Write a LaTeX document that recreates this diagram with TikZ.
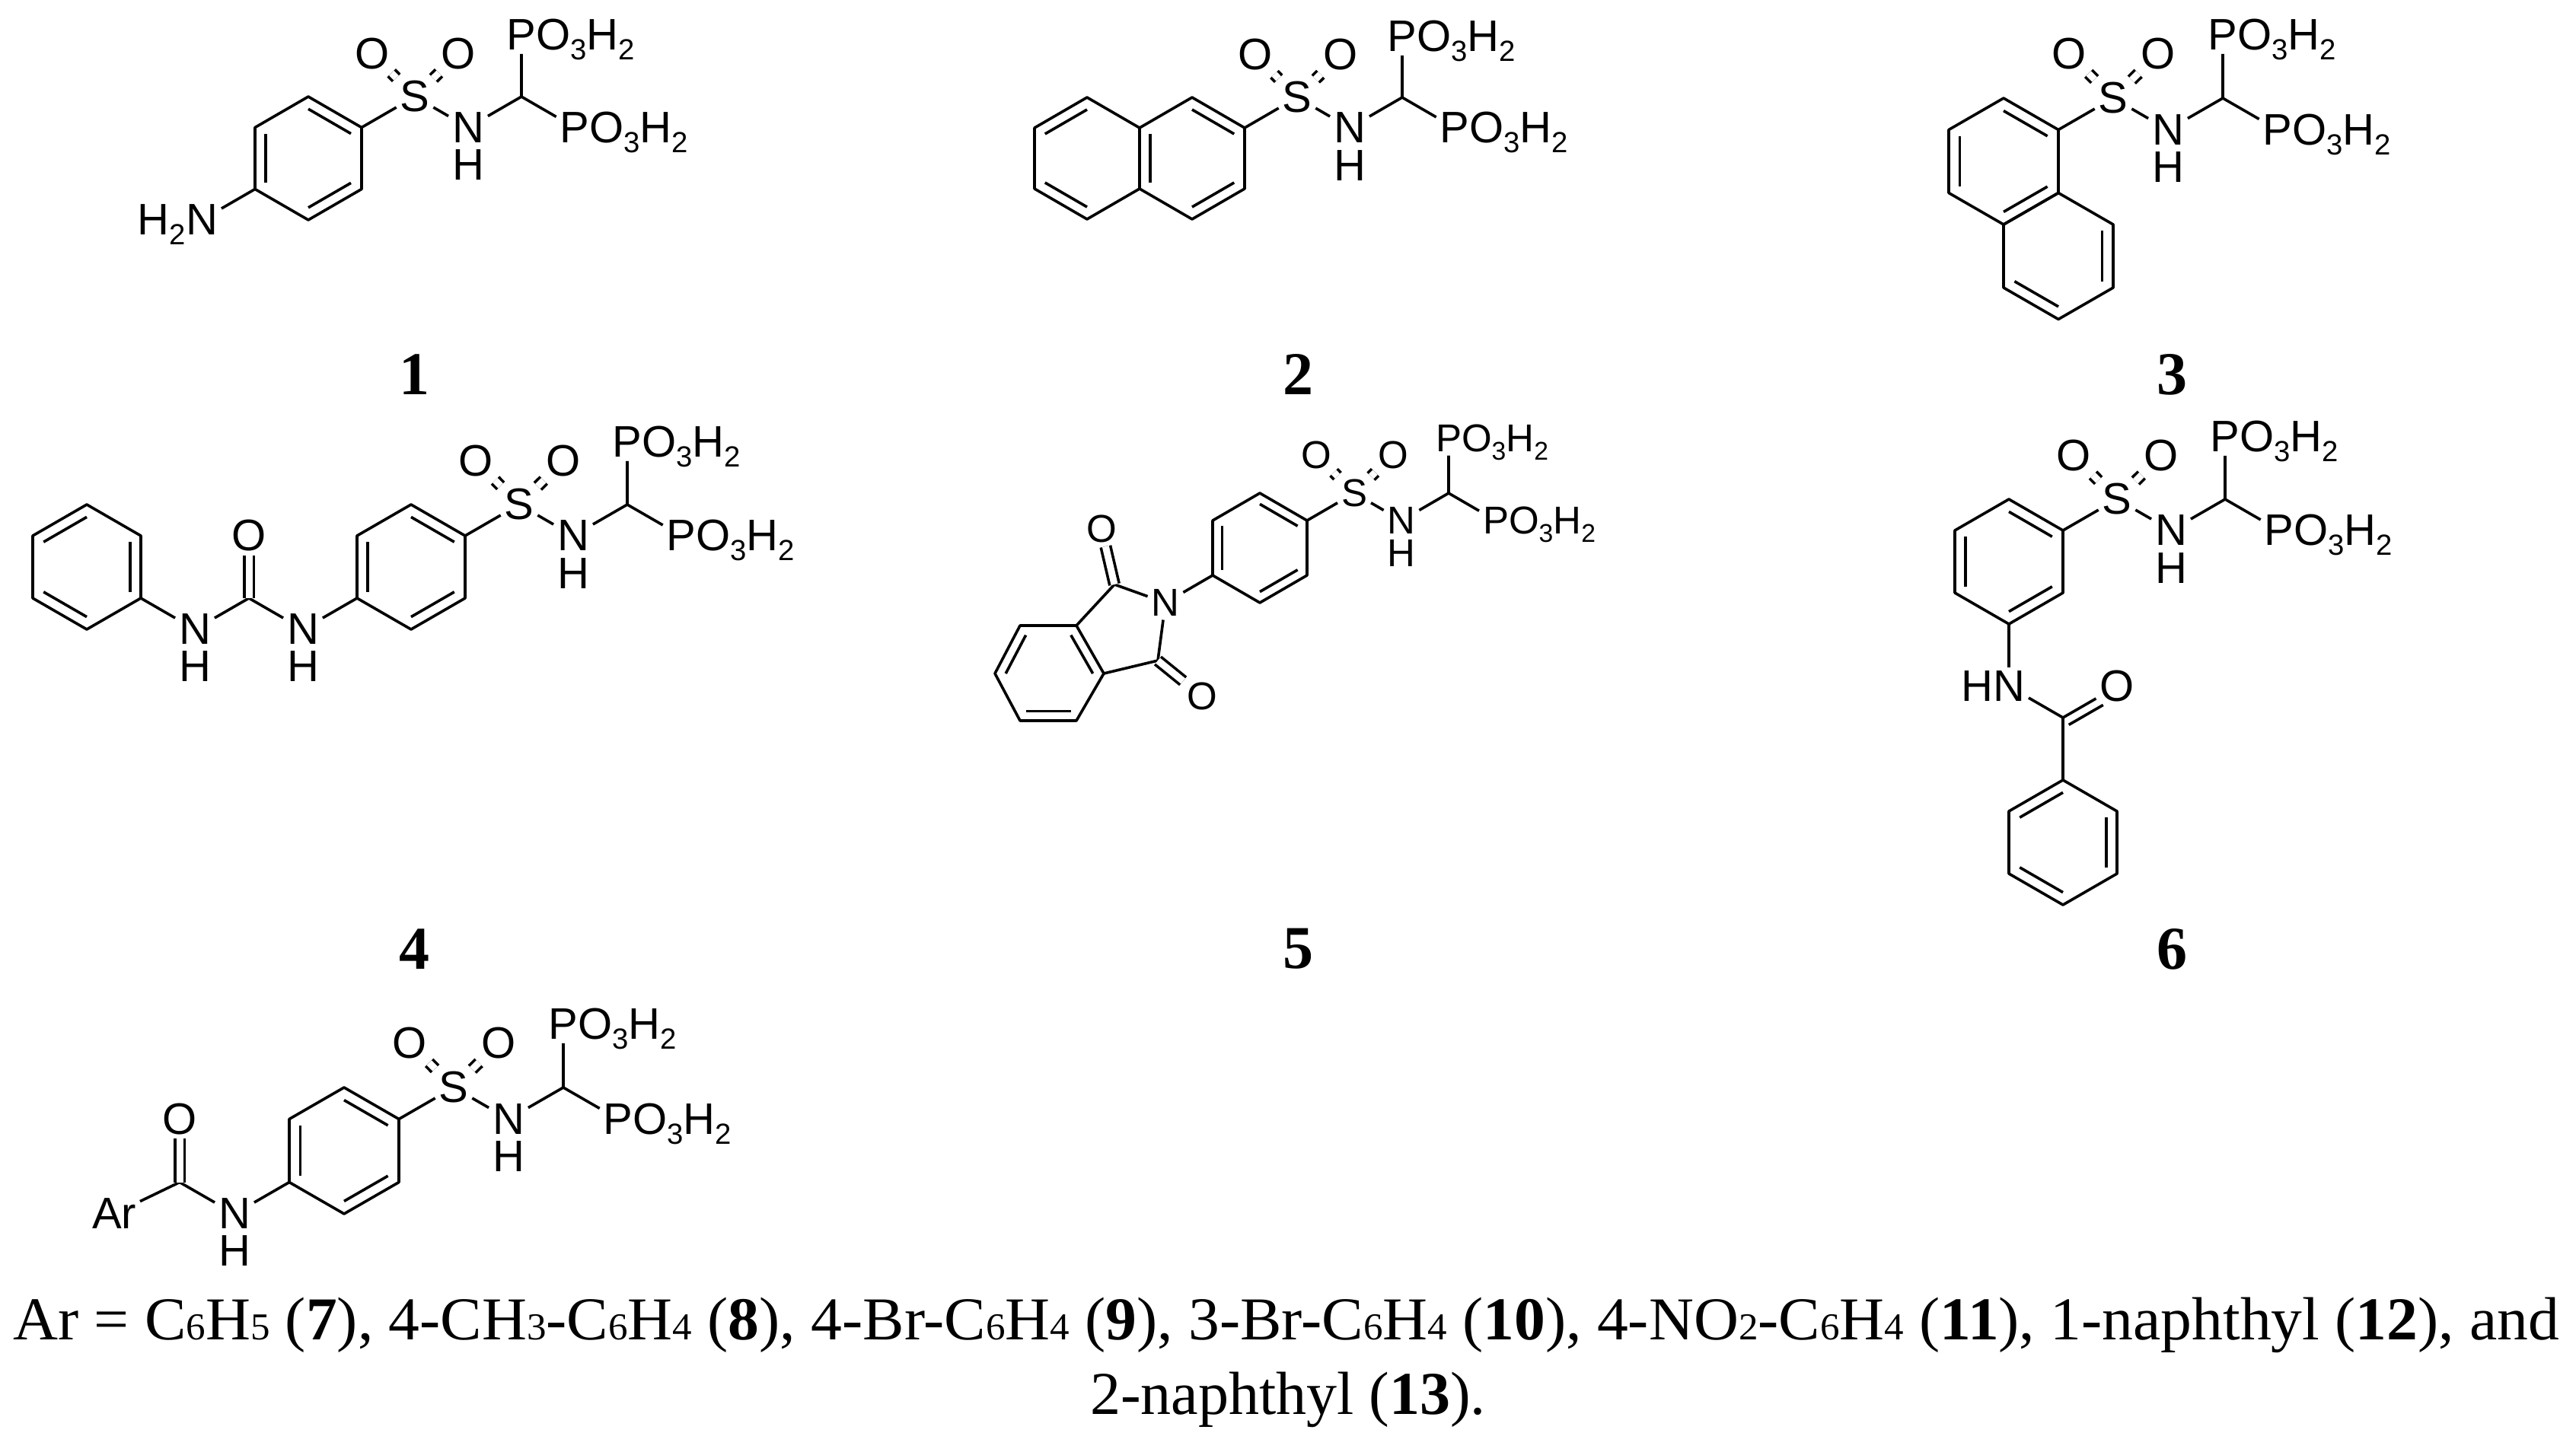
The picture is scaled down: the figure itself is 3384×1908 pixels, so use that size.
\documentclass[tikz,border=0pt]{standalone}
\usepackage{fontspec}
\usepackage{graphicx}
\setmainfont{Liberation Serif}
\newfontfamily\chemfont{Liberation Sans}
\usetikzlibrary{calc}
\newcommand\chemsize{58}
\newcommand\sub[1]{\raisebox{-0.22em}{\fontsize{\fpeval{0.66*\chemsize}}{10}\selectfont #1}}
\newcommand\csub[1]{{\fontsize{50}{50}\selectfont #1}}
\tikzset{
 bond/.style={line width=3.6pt, line join=round},
 atom/.style={font=\chemfont\fontsize{\chemsize}{\chemsize}\selectfont, inner sep=5pt, outer sep=0pt},
 dbl/.style={bond, double, double distance=9pt},
 numlab/.style={font=\fontsize{80}{80}\selectfont\bfseries, inner sep=0pt}
}
\newcommand\hexring[5]{%
 \coordinate (#1c) at (#2,#3);
 \coordinate (#11) at (#2,#3-#5);
 \coordinate (#12) at (#2+#4,#3-#5/2);
 \coordinate (#13) at (#2+#4,#3+#5/2);
 \coordinate (#14) at (#2,#3+#5);
 \coordinate (#15) at (#2-#4,#3+#5/2);
 \coordinate (#16) at (#2-#4,#3-#5/2);
 \draw[bond] (#11)--(#12)--(#13)--(#14)--(#15)--(#16)--cycle;}
\newcommand\inb[3]{\draw[bond] ($(#1)!0.2!(#3)$) -- ($(#2)!0.2!(#3)$);}
\newcommand\pchain[4]{%
 \path (#2) ++(#3,-#4) node[atom] (#1S) {S};
 \path (#1S.center) ++(-0.8*#3,-1.4*#4) node[atom] (#1Oa) {O};
 \path (#1S.center) ++(0.82*#3,-1.4*#4) node[atom] (#1Ob) {O};
 \path (#1S.center) ++(#3,#4) node[atom] (#1N) {N};
 \path (#1N.center) ++(0,0.85*\chemsize) node[atom] (#1H) {H};
 \path (#1N.center) ++(#3,-#4) coordinate (#1C);
 \path (#1C) ++(0,-2*#4) node[atom] (#1Pa) {P};
 \node[atom, anchor=base west, inner sep=0pt] (#1Xa) at ([xshift=-5pt]#1Pa.base east) {O\sub3H\sub2};
 \path (#1C) ++(#3,#4) node[atom] (#1Pb) {P};
 \node[atom, anchor=base west, inner sep=0pt] (#1Xb) at ([xshift=-5pt]#1Pb.base east) {O\sub3H\sub2};
 \draw[bond] (#2) -- (#1S);
 \draw[dbl] (#1S) -- (#1Oa);
 \draw[dbl] (#1S) -- (#1Ob);
 \draw[bond] (#1S) -- (#1N);
 \draw[bond] (#1N) -- (#1C) -- (#1Pa);
 \draw[bond] (#1C) -- (#1Pb);}
\begin{document}
\begin{tikzpicture}[x=1pt,y=-1pt]
\fill[white] (0,0) rectangle (3384,1908);
\useasboundingbox (0,0) rectangle (3384,1908);
% ---- 1
\hexring{a}{405}{208}{70}{81}
\inb{a1}{a2}{ac}\inb{a5}{a6}{ac}\inb{a3}{a4}{ac}
\pchain{A}{a2}{70}{40.5}
\node[atom] (AN2) at (265,289) {N};
\node[atom,anchor=base east,inner sep=0pt] (AH2) at ([xshift=5pt]AN2.base west) {H\sub2};
\draw[bond] (a5) -- (AN2);
\node[numlab] (L1) at (544,492) {1};
% ---- 2
\hexring{b}{1428}{208}{69}{80}
\hexring{c}{1566}{208}{69}{80}
\inb{b6}{b1}{bc}\inb{b5}{b4}{bc}\inb{b2}{b3}{cc}\inb{c1}{c2}{cc}\inb{c4}{c3}{cc}
\pchain{B}{c2}{69}{40}
\node[numlab] (L2) at (1705,492) {2};
% ---- 3
\hexring{d}{2632}{212}{72}{83}
\hexring{e}{2704}{336.5}{72}{83}
\inb{d1}{d2}{dc}\inb{d5}{d6}{dc}\inb{d3}{d4}{dc}\inb{e2}{e3}{ec}\inb{e4}{e5}{ec}
\pchain{C}{d2}{72}{41.5}
\node[numlab] (L3) at (2853,492) {3};
% ---- 4
\hexring{f}{114}{745}{71}{82}
\hexring{g}{540}{745}{71}{82}
\inb{f6}{f1}{fc}\inb{f2}{f3}{fc}\inb{f5}{f4}{fc}
\inb{g1}{g2}{gc}\inb{g5}{g6}{gc}\inb{g3}{g4}{gc}
\node[atom] (DN1) at (256,827) {N};
\node[atom] (DH1) at (256,876) {H};
\coordinate (DU) at (327,786);
\node[atom] (DO) at (327,704) {O};
\node[atom] (DN2) at (398,827) {N};
\node[atom] (DH2) at (398,876) {H};
\draw[bond] (f3) -- (DN1);
\draw[bond] (DN1) -- (DU) -- (DN2);
\draw[dbl] (DU) -- (DO);
\draw[bond] (DN2) -- (g5);
\pchain{D}{g2}{71}{41}
\node[numlab] (L4) at (544,1247) {4};
% ---- 5
\renewcommand\chemsize{51}
\hexring{h}{1655}{720}{62}{72}
\inb{h1}{h2}{hc}\inb{h5}{h6}{hc}\inb{h3}{h4}{hc}
\pchain{E}{h2}{62}{36}
\node[atom] (EN2) at (1531,792) {N};
\coordinate (k1) at (1464,768);
\coordinate (k2) at (1521,868);
\coordinate (k3) at (1450,885);
\coordinate (k4) at (1414,822);
\coordinate (k5) at (1340,822);
\coordinate (k6) at (1307,885);
\coordinate (k7) at (1340,947);
\coordinate (k8) at (1414,947);
\coordinate (kc) at (1378,885);
\node[atom] (EO1) at (1447,695) {O};
\node[atom] (EO2) at (1579,915) {O};
\draw[bond] (h5) -- (EN2);
\draw[bond] (EN2) -- (k1) -- (k4);
\draw[bond] (EN2) -- (k2) -- (k3);
\draw[bond] (k4)--(k5)--(k6)--(k7)--(k8)--(k3)--cycle;
\inb{k5}{k6}{kc}\inb{k7}{k8}{kc}\inb{k4}{k3}{kc}
\draw[dbl] (k1) -- (EO1);
\draw[dbl] (k2) -- (EO2);
\node[numlab] (L5) at (1705,1247) {5};
% ---- 6
\renewcommand\chemsize{58}
\hexring{m}{2639}{738}{71}{82}
\inb{m1}{m2}{mc}\inb{m5}{m6}{mc}\inb{m3}{m4}{mc}
\pchain{F}{m2}{71}{41}
\node[atom] (FN2) at (2639,902) {N};
\node[atom,anchor=base east,inner sep=0pt] (FH2) at ([xshift=5pt]FN2.base west) {H};
\coordinate (FU) at (2710,943);
\node[atom] (FO) at (2781,902) {O};
\hexring{p}{2710}{1107}{71}{82}
\inb{p6}{p1}{pc}\inb{p2}{p3}{pc}\inb{p4}{p5}{pc}
\draw[bond] (m4) -- (FN2);
\draw[bond] (FN2) -- (FU) -- (p1);
\draw[bond] (FU) -- (FO);
\draw[bond, shorten >=28pt, shorten <=2pt] ($(FU)!12pt!-90:(FO.center)$) -- ($(FO.center)!12pt!90:(FU)$);
\node[numlab] (L6) at (2853,1247) {6};
% ---- 7
\hexring{q}{452}{1512}{72}{83}
\inb{q1}{q2}{qc}\inb{q5}{q6}{qc}\inb{q3}{q4}{qc}
\pchain{G}{q2}{72}{41.5}
\node[atom] (GN2) at (308,1595) {N};
\node[atom] (GH2) at (308,1644) {H};
\coordinate (GU) at (236,1553.5);
\node[atom] (GO) at (236,1470.5) {O};
\node[atom] (GAr) at (150,1595) {Ar};
\draw[bond] (q5) -- (GN2);
\draw[bond] (GN2) -- (GU) -- (GAr);
\draw[dbl] (GU) -- (GO);
% ---- caption
\node[anchor=base west, inner sep=0pt, font=\fontsize{80}{80}\selectfont] (cap1) at (17,1760)
 {\resizebox{3345pt}{\height}{Ar = C\csub6H\csub5 (\textbf{7}), 4-CH\csub3-C\csub6H\csub4 (\textbf{8}), 4-Br-C\csub6H\csub4 (\textbf{9}), 3-Br-C\csub6H\csub4 (\textbf{10}), 4-NO\csub2-C\csub6H\csub4 (\textbf{11}), 1-naphthyl (\textbf{12}), and}};
\node[anchor=base, inner sep=0pt, font=\fontsize{80}{80}\selectfont] (cap2) at (1692,1858) {2-naphthyl (\textbf{13}).};
\end{tikzpicture}
\end{document}
